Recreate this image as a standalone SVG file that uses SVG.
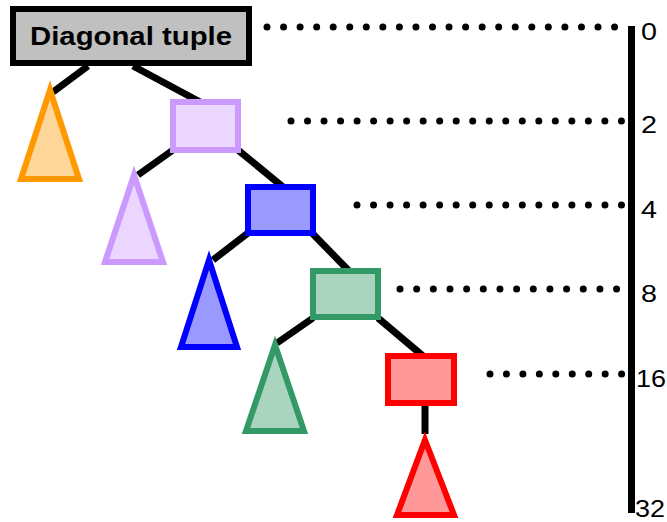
<svg xmlns="http://www.w3.org/2000/svg" width="667" height="522" viewBox="0 0 667 522">
  <style>
    .edge { stroke: #000; stroke-width: 7; fill: none; }
    .dots { stroke: #000; stroke-width: 7; stroke-linecap: round; fill: none; }
    .node { stroke-width: 6; }
    .tri { stroke-width: 6; stroke-linejoin: miter; stroke-miterlimit: 10; }
    .lbl { font-family: "Liberation Sans", Arial, sans-serif; font-size: 24px; fill: #000; }
    .orange { stroke: #ff9900; fill: #ffd699; }
    .purple { stroke: #cc99ff; fill: #ebd6ff; }
    .blue { stroke: #0000ff; fill: #9999ff; }
    .green { stroke: #339966; fill: #a9d5bf; }
    .red { stroke: #ff0000; fill: #ff9999; }
  </style>

  <!-- scale: level guides and axis -->
  <g id="scale">
    <line class="dots" x1="267" y1="27" x2="616" y2="27" stroke-dasharray="0 16.55"/>
    <line class="dots" x1="291" y1="121" x2="623" y2="121" stroke-dasharray="0 16.52"/>
    <line class="dots" x1="357" y1="205" x2="623" y2="205" stroke-dasharray="0 16.53"/>
    <line class="dots" x1="400" y1="289" x2="618" y2="289" stroke-dasharray="0 16.66"/>
    <line class="dots" x1="490" y1="374" x2="623" y2="374" stroke-dasharray="0 16.45"/>
    <line x1="631.5" y1="26" x2="631.5" y2="513" stroke="#000" stroke-width="7"/>
    <text class="lbl" x="641" y="40" textLength="16" lengthAdjust="spacingAndGlyphs">0</text>
    <text class="lbl" x="641" y="133" textLength="16" lengthAdjust="spacingAndGlyphs">2</text>
    <text class="lbl" x="641" y="218" textLength="16" lengthAdjust="spacingAndGlyphs">4</text>
    <text class="lbl" x="641" y="302" textLength="16" lengthAdjust="spacingAndGlyphs">8</text>
    <text class="lbl" x="636" y="387" textLength="30" lengthAdjust="spacingAndGlyphs">16</text>
    <text class="lbl" x="635" y="517" textLength="30" lengthAdjust="spacingAndGlyphs">32</text>
  </g>

  <!-- tree edges -->
  <g id="connectors">
    <line class="edge" x1="88" y1="66" x2="53" y2="92"/>
    <line class="edge" x1="133" y1="66" x2="202" y2="103"/>
    <line class="edge" x1="173" y1="150" x2="138" y2="175"/>
    <line class="edge" x1="238" y1="150" x2="283" y2="187"/>
    <line class="edge" x1="248" y1="233" x2="213" y2="260"/>
    <line class="edge" x1="312" y1="233" x2="350" y2="272"/>
    <line class="edge" x1="313" y1="318" x2="277" y2="343"/>
    <line class="edge" x1="378" y1="318" x2="423" y2="356"/>
    <line class="edge" x1="425" y1="403" x2="425" y2="434"/>
  </g>

  <g id="root">
    <rect x="13" y="9" width="236" height="54" fill="#c0c0c0" stroke="#000" stroke-width="6"/>
    <text x="30" y="45" font-family="Liberation Sans, Arial, sans-serif" font-size="26" font-weight="bold" textLength="202" lengthAdjust="spacingAndGlyphs">Diagonal tuple</text>
  </g>

  <g id="leaf-orange">
    <polygon class="tri orange" points="50,90 79,179 21,179"/>
  </g>
  <g id="node-purple">
    <rect class="node purple" x="173" y="102" width="65" height="48"/>
  </g>
  <g id="leaf-purple">
    <polygon class="tri purple" points="134,175 163,262 105,262" fill="#e6ccff"/>
  </g>
  <g id="node-blue">
    <rect class="node blue" x="248" y="187" width="65" height="46"/>
  </g>
  <g id="leaf-blue">
    <polygon class="tri blue" points="209,260 237,347 181,347"/>
  </g>
  <g id="node-green">
    <rect class="node green" x="313" y="271" width="65" height="46"/>
  </g>
  <g id="leaf-green">
    <polygon class="tri green" points="275,345 304,431 246,431"/>
  </g>
  <g id="node-red">
    <rect class="node red" x="388" y="356" width="66" height="47"/>
  </g>
  <g id="leaf-red">
    <polygon class="tri red" points="425,440 454,515 397,515"/>
  </g>
</svg>
